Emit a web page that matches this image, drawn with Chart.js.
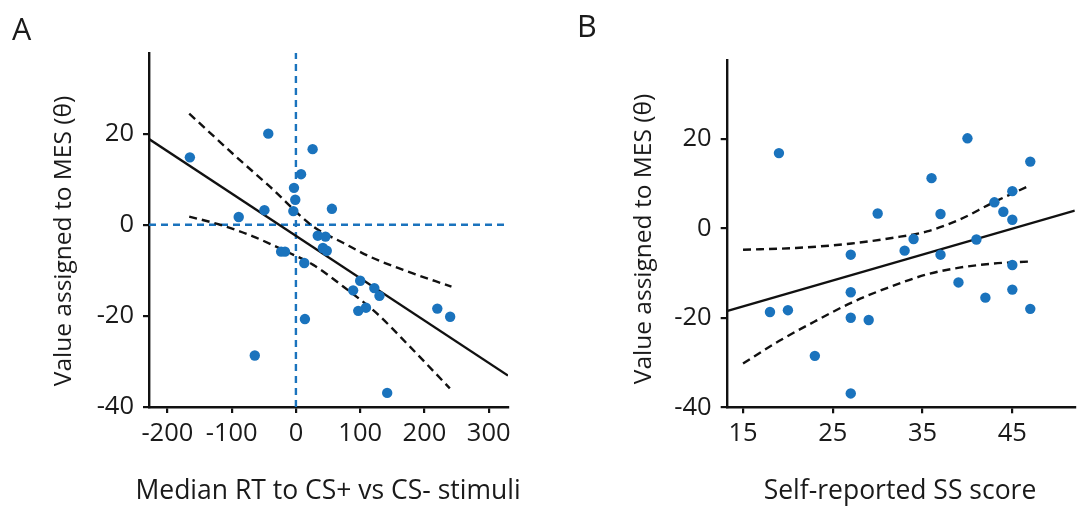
<!DOCTYPE html>
<html><head><meta charset="utf-8">
<script src="https://cdn.jsdelivr.net/npm/chart.js@4.4.1/dist/chart.umd.min.js"></script>
<style>
html,body{margin:0;padding:0;background:#fff;}
body{width:1080px;height:508px;position:relative;overflow:hidden;font-family:"Open Sans",sans-serif;color:#1a1a1a;}
.wrap{position:absolute;top:0;height:508px;}
#wa{left:0;width:540px;}
#wb{left:560px;width:520px;}
.t{position:absolute;white-space:nowrap;line-height:24px;text-align:center;width:500px;}
.tx{font-size:26.5px;}
.ty{font-size:24.5px;}
.p{position:absolute;font-size:30.5px;line-height:30px;}
</style></head>
<body>
<div class="wrap" id="wa"><canvas id="ca"></canvas></div>
<div class="wrap" id="wb"><canvas id="cb"></canvas></div>
<div class="p" style="left:12px;top:13px;">A</div>
<div class="p" style="left:577px;top:10px;">B</div>
<div class="t tx" style="left:78px;top:477px;">Median RT to CS+ vs CS- stimuli</div>
<div class="t tx" style="left:650px;top:477px;">Self-reported SS score</div>
<div class="t ty" style="left:-188px;top:229px;transform:rotate(-90deg);">Value assigned to MES (θ)</div>
<div class="t ty" style="left:392px;top:227px;transform:rotate(-90deg);">Value assigned to MES (θ)</div>
<script>
// ---------- Panel A data ----------
const aX = [-165,-43,26,8,-3,-1,-4,56,-49,-89,34,46,42,48,-23,-17,13,100,89,122,130,109,97,220,240,14,-64,142];
const aY = [14.8,20,16.6,11.1,8.1,5.5,3.0,3.5,3.2,1.7,-2.4,-2.6,-5.1,-5.7,-5.9,-5.9,-8.4,-12.3,-14.4,-13.9,-15.6,-18.2,-18.9,-18.4,-20.2,-20.7,-28.7,-36.9];
const aFitX = [-228.6, 330];
const aFitY = [18.8, -33.1];
const aUpX = [-166,-92,-40,27,74,115,167,242];
const aUpY = [24.4,14.8,8.3,-0.4,-4.0,-7.0,-9.9,-13.6];
const aLoX = [-166,-118,-66,-14.5,27,74,125.5,177,239.5];
const aLoY = [1.8,0.0,-2.6,-5.9,-8.8,-13.6,-19.4,-26.7,-35.9];
const aXRange = [-228.6, 330];
const aYRange = [-40, 37.7];
const aXTicks = [-200,-100,0,100,200,300];
const aYTicks = [-40,-20,0,20];

// ---------- Panel B data ----------
const bX = [19,40,47,36,45,43,44,45,30,37,34,41,33,37,27,45,39,45,27,42,47,20,18,27,29,23,27];
const bY = [16.8,20.1,14.9,11.2,8.3,5.8,3.7,1.9,3.3,3.2,-2.4,-2.5,-5.0,-5.9,-5.9,-8.2,-12.1,-13.7,-14.3,-15.5,-18.0,-18.3,-18.7,-20.0,-20.5,-28.5,-36.9];
const bFitX = [13.18, 51.96];
const bFitY = [-18.5, 3.95];
const bUpX = [15,20.9,27.1,31.8,35.5,39.1,42.8,46.9];
const bUpY = [-4.8,-4.4,-3.4,-2.1,-0.7,1.9,5.7,9.5];
const bLoX = [15,19,23.1,27.1,31.1,35.5,39.1,42.8,47.1];
const bLoY = [-30.2,-25.2,-20.7,-16.6,-13.3,-10.3,-8.8,-7.9,-7.4];
const bXRange = [13.18, 51.96];
const bYRange = [-40, 37.6];
const bXTicks = [15,25,35,45];
const bYTicks = [-40,-20,0,20];

const BLUE = '#1a73bd';
const pts = (xs, ys) => xs.map((x, i) => ({x, y: ys[i]}));

function lineSet(xs, ys, color, dash, smooth) {
  return {data: pts(xs, ys), showLine: true, borderColor: color, borderWidth: 2.4,
    borderDash: dash, pointRadius: 0, fill: false, tension: smooth ? 0.4 : 0,
    cubicInterpolationMode: smooth ? 'monotone' : 'default'};
}

function makeChart(id, cfg) {
  const tickFont = {family: '"Open Sans"', size: 25.5};
  return new Chart(document.getElementById(id), {
    type: 'scatter',
    data: {datasets: cfg.datasets},
    options: {
      responsive: true, maintainAspectRatio: false, animation: false,
      layout: {padding: cfg.padding},
      plugins: {legend: {display: false}, tooltip: {enabled: false}},
      scales: {
        x: {type: 'linear', min: cfg.xr[0], max: cfg.xr[1],
          afterBuildTicks: s => { s.ticks = cfg.xt.map(v => ({value: v})); },
          afterFit: s => { s.height = cfg.xh; },
          grid: {display: true, drawOnChartArea: false, drawTicks: true, tickLength: 6, color: '#111', lineWidth: 2.2},
          border: {display: true, color: '#111', width: 2.4},
          ticks: {font: tickFont, color: '#1a1a1a', padding: 5, maxRotation: 0, autoSkip: false}},
        y: {type: 'linear', min: cfg.yr[0], max: cfg.yr[1],
          afterBuildTicks: s => { s.ticks = cfg.yt.map(v => ({value: v})); },
          afterFit: s => { s.width = cfg.yw; },
          grid: {display: true, drawOnChartArea: false, drawTicks: true, tickLength: 6, color: '#111', lineWidth: 2.2},
          border: {display: true, color: '#111', width: 2.4},
          ticks: {font: tickFont, color: '#1a1a1a', padding: 9, autoSkip: false}}
      }
    }
  });
}

makeChart('ca', {
  padding: {top: 53, right: 32, bottom: 0, left: 0},
  xr: aXRange, yr: aYRange, xt: aXTicks, yt: aYTicks, xh: 101, yw: 149,
  datasets: [
    {data: pts(aX, aY), backgroundColor: BLUE, borderWidth: 0, pointRadius: 5.2, pointHoverRadius: 5.2},
    lineSet(aFitX, aFitY, '#111', [], false),
    lineSet(aUpX, aUpY, '#111', [8, 5], true),
    lineSet(aLoX, aLoY, '#111', [8, 5], true),
    lineSet([0, 0], aYRange, BLUE, [7, 5], false),
    lineSet(aXRange, [0, 0], BLUE, [7, 5], false)
  ]
});

makeChart('cb', {
  padding: {top: 60, right: 0, bottom: 0, left: 0},
  xr: bXRange, yr: bYRange, xt: bXTicks, yt: bYTicks, xh: 100.7, yw: 166.7,
  datasets: [
    {data: pts(bX, bY), backgroundColor: BLUE, borderWidth: 0, pointRadius: 5.2, pointHoverRadius: 5.2},
    lineSet(bFitX, bFitY, '#111', [], false),
    lineSet(bUpX, bUpY, '#111', [8, 5], true),
    lineSet(bLoX, bLoY, '#111', [8, 5], true)
  ]
});
</script>
</body></html>
